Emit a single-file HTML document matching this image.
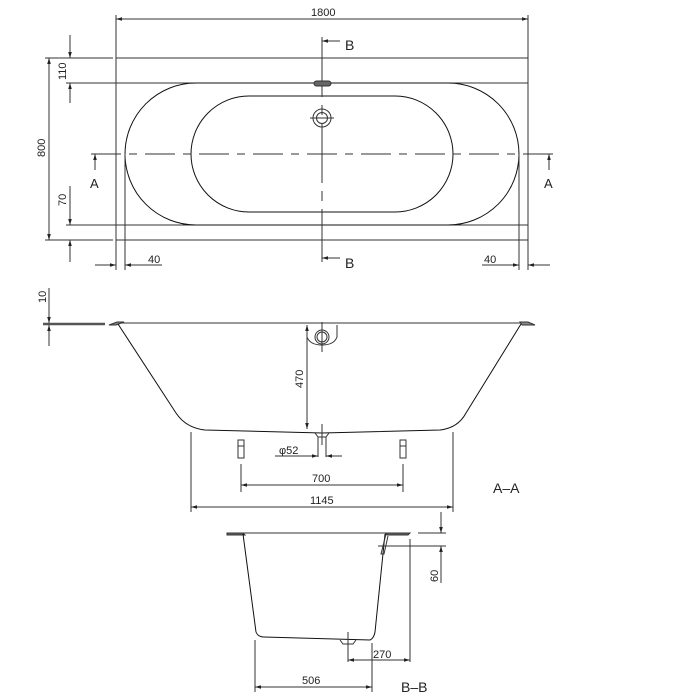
<!DOCTYPE html>
<html><head><style>
html,body{margin:0;padding:0;background:#fff;width:700px;height:700px;overflow:hidden}
text{font-family:"Liberation Sans",sans-serif;font-size:11px;fill:#222}
</style></head><body>
<svg width="700" height="700" viewBox="0 0 700 700" xmlns="http://www.w3.org/2000/svg">
<defs>
<marker id="a" viewBox="0 0 10 10" refX="10" refY="5" markerWidth="8" markerHeight="6" orient="auto-start-reverse"><path d="M0,2L10,5L0,8z" fill="#222"/></marker>
</defs>
<g stroke="#333" stroke-width="1" fill="none">
<!-- TOP VIEW -->
<rect x="116" y="58" width="412" height="182"/>
<line x1="116" y1="83" x2="528" y2="83"/>
<line x1="116" y1="225" x2="528" y2="225"/>
<path d="M196,83 H448 A71,71 0 0 1 448,225 H196 A71,71 0 0 1 196,83 Z" stroke="#111"/>
<path d="M249,96 H395 A58,58 0 0 1 395,212 H249 A58,58 0 0 1 249,96 Z" stroke="#111"/>
<line x1="91" y1="154" x2="553" y2="154" stroke-dasharray="30,8,8,8"/>
<line x1="322" y1="37" x2="322" y2="262" stroke-dasharray="60,8,10,8"/>
<rect x="314" y="81" width="17" height="5" rx="2.5" fill="#666"/>
<circle cx="322" cy="118" r="9"/><circle cx="322" cy="118" r="5.5"/>
<line x1="310" y1="118" x2="334" y2="118"/>
<line x1="116" y1="15" x2="116" y2="58"/><line x1="528" y1="15" x2="528" y2="58"/>
<line x1="116" y1="19" x2="528" y2="19" marker-start="url(#a)" marker-end="url(#a)"/>
<line x1="45" y1="58" x2="113" y2="58"/><line x1="45" y1="240" x2="113" y2="240"/>
<line x1="49" y1="58" x2="49" y2="240" marker-start="url(#a)" marker-end="url(#a)"/>
<line x1="66" y1="83" x2="116" y2="83"/><line x1="66" y1="225" x2="116" y2="225"/>
<line x1="70" y1="35" x2="70" y2="58" marker-end="url(#a)"/>
<line x1="70" y1="103" x2="70" y2="83" marker-end="url(#a)"/>
<line x1="70" y1="186" x2="70" y2="225" marker-end="url(#a)"/>
<line x1="70" y1="262" x2="70" y2="240" marker-end="url(#a)"/>
<line x1="125" y1="154" x2="125" y2="270"/><line x1="116" y1="240" x2="116" y2="270"/>
<line x1="519" y1="154" x2="519" y2="270"/><line x1="528" y1="240" x2="528" y2="270"/>
<line x1="95" y1="265" x2="116" y2="265" marker-end="url(#a)"/>
<line x1="162" y1="265" x2="125" y2="265" marker-end="url(#a)"/>
<line x1="482" y1="265" x2="519" y2="265" marker-end="url(#a)"/>
<line x1="550" y1="265" x2="528" y2="265" marker-end="url(#a)"/>
<line x1="95" y1="170" x2="95" y2="154" marker-end="url(#a)"/>
<line x1="549" y1="170" x2="549" y2="154" marker-end="url(#a)"/>
<line x1="340" y1="41" x2="322" y2="41" marker-end="url(#a)"/>
<line x1="340" y1="258" x2="322" y2="258" marker-end="url(#a)"/>
<!-- A-A -->
<line x1="43" y1="324" x2="105" y2="324" stroke-width="2.5" stroke="#555"/>
<line x1="117" y1="323" x2="528" y2="323"/>
<path d="M109,325 L117,322 H124 L116,325 Z" fill="#888"/>
<path d="M520,322 H528 L535,325 H522 Z" fill="#888"/>
<path d="M118,324 L176,413 Q186,428 205,430 L322,433 L440,430 Q458,428 466,413 L521,324" stroke="#111"/>
<path d="M307,325 V337 Q310,345 322,345 Q334,345 337,337 V325"/>
<circle cx="322" cy="337" r="7"/><circle cx="322" cy="337" r="5"/>
<line x1="322" y1="322" x2="322" y2="352"/>
<line x1="49" y1="288" x2="49" y2="323" marker-end="url(#a)"/>
<line x1="49" y1="346" x2="49" y2="325" marker-end="url(#a)"/>
<line x1="307" y1="325" x2="307" y2="429" marker-start="url(#a)" marker-end="url(#a)"/>
<path d="M315,433 L318,437 H326 L329,433"/>
<line x1="318" y1="437" x2="318" y2="457"/><line x1="326" y1="437" x2="326" y2="457"/>
<line x1="322" y1="424" x2="322" y2="445"/>
<line x1="275" y1="456" x2="318" y2="456" marker-end="url(#a)"/>
<line x1="342" y1="456" x2="326" y2="456" marker-end="url(#a)"/>
<rect x="238" y="440" width="6" height="18"/><rect x="400" y="440" width="6" height="18"/>
<line x1="238" y1="446" x2="244" y2="446"/><line x1="400" y1="446" x2="406" y2="446"/>
<line x1="241" y1="464" x2="241" y2="492"/><line x1="403" y1="464" x2="403" y2="492"/>
<line x1="241" y1="485" x2="403" y2="485" marker-start="url(#a)" marker-end="url(#a)"/>
<line x1="191" y1="432" x2="191" y2="512"/><line x1="453" y1="432" x2="453" y2="512"/>
<line x1="191" y1="507" x2="453" y2="507" marker-start="url(#a)" marker-end="url(#a)"/>
<!-- B-B -->
<line x1="227" y1="533" x2="410" y2="533"/>
<path d="M227,533 H243 L245,535 H227 Z" fill="#666"/>
<path d="M385,533 H410 L408,535 H387 Z" fill="#666"/>
<path d="M243,534 L256,632 Q258,637 264,637 L370,640 Q374,638 375,632 L385,534" stroke="#111"/>
<path d="M386,534 L381,554 H384 L388,536"/>
<line x1="378" y1="546" x2="446" y2="546"/>
<line x1="418" y1="533" x2="446" y2="533"/>
<line x1="441" y1="512" x2="441" y2="533" marker-end="url(#a)"/>
<line x1="441" y1="583" x2="441" y2="546" marker-end="url(#a)"/>
<line x1="410" y1="539" x2="410" y2="662"/>
<path d="M340,640 L343,644 H353 L356,640"/>
<line x1="348" y1="632" x2="348" y2="662"/>
<line x1="348" y1="660" x2="410" y2="660" marker-start="url(#a)" marker-end="url(#a)"/>
<line x1="255" y1="640" x2="255" y2="692"/><line x1="372" y1="643" x2="372" y2="692"/>
<line x1="255" y1="687" x2="372" y2="687" marker-start="url(#a)" marker-end="url(#a)"/>
</g>
<text x="311" y="16">1800</text>
<text x="345" y="50" style="font-size:14px">B</text>
<text x="345" y="268" style="font-size:14px">B</text>
<text x="90" y="188" style="font-size:13px">A</text>
<text x="544" y="188" style="font-size:13px">A</text>
<text x="148" y="263">40</text>
<text x="484" y="263">40</text>
<text transform="translate(45,157) rotate(-90)">800</text>
<text transform="translate(66,80) rotate(-90)">110</text>
<text transform="translate(66,206) rotate(-90)">70</text>
<text transform="translate(46,303) rotate(-90)">10</text>
<text transform="translate(303,388) rotate(-90)">470</text>
<text x="279" y="454">φ52</text>
<text x="312" y="482">700</text>
<text x="310" y="504">1145</text>
<text x="493" y="493" style="font-size:14px">A–A</text>
<text transform="translate(438,582) rotate(-90)">60</text>
<text x="373" y="658">270</text>
<text x="302" y="684">506</text>
<text x="401" y="692" style="font-size:14px">B–B</text>
</svg>
</body></html>
